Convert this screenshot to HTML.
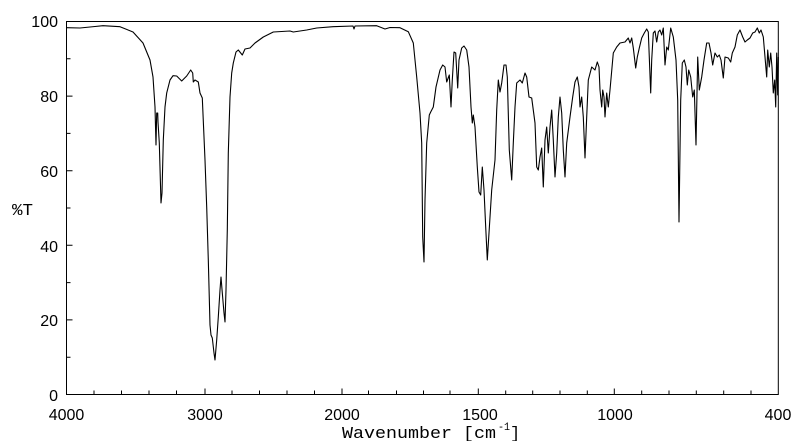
<!DOCTYPE html>
<html><head><style>body{margin:0;background:#fff}svg{display:block}</style></head><body>
<svg width="800" height="441" xmlns="http://www.w3.org/2000/svg">
<rect width="800" height="441" fill="#fff"/>
<rect x="66.5" y="21.5" width="711.8" height="373" fill="none" stroke="#000" stroke-width="1"/>
<g stroke="#000" stroke-width="1">
<path d="M66.5 394.5v-6M94 394.5v-4M121.5 394.5v-4M149 394.5v-4M176.5 394.5v-4M205 394.5v-6M232 394.5v-4M259.5 394.5v-4M287 394.5v-4M314.5 394.5v-4M342 394.5v-6M368.5 394.5v-4M396.5 394.5v-4M423.5 394.5v-4M450 394.5v-4M478.3 394.5v-6M505.7 394.5v-4M532.7 394.5v-4M560 394.5v-4M587.3 394.5v-4M614.3 394.5v-6M641.7 394.5v-4M669 394.5v-4M696.3 394.5v-4M723.7 394.5v-4M751 394.5v-4"/>
<path d="M66.5 21.5h6M66.5 58.8h4M66.5 96.1h6M66.5 133.4h4M66.5 170.7h6M66.5 208h4M66.5 245.3h6M66.5 282.6h4M66.5 319.9h6M66.5 357.2h4"/>
</g>
<g font-family="Liberation Sans, sans-serif" font-size="16" fill="#000">
<text x="58" y="27" text-anchor="end">100</text>
<text x="58" y="102" text-anchor="end">80</text>
<text x="58" y="177" text-anchor="end">60</text>
<text x="58" y="252" text-anchor="end">40</text>
<text x="58" y="326" text-anchor="end">20</text>
<text x="58" y="401" text-anchor="end">0</text>
<text x="66.5" y="420" text-anchor="middle">4000</text>
<text x="205" y="420" text-anchor="middle">3000</text>
<text x="342" y="420" text-anchor="middle">2000</text>
<text x="480" y="420" text-anchor="middle">1500</text>
<text x="615" y="420" text-anchor="middle">1000</text>
<text x="778" y="420" text-anchor="middle">400</text>
</g>
<g font-family="'Liberation Mono', monospace" font-size="17" fill="#000">
<text x="12" y="215" textLength="21" lengthAdjust="spacingAndGlyphs">%T</text>
<text x="342" y="438" textLength="154" lengthAdjust="spacingAndGlyphs">Wavenumber [cm</text>
<text x="498" y="430" font-size="11" textLength="12" lengthAdjust="spacingAndGlyphs">-1</text>
<text x="510" y="438">]</text>
</g>
<polyline fill="none" stroke="#000" stroke-width="1.1" stroke-linejoin="round" points="
66.7,27.7 80,28 95,26.5 103,25.7 120,26.7 133,32 143,43 150,60 153,77 155,107 156,145 156.7,113 157.7,113 158,122 159.3,143 161,203 162,193 163.3,140 165,107 166.7,93 170,80 173,75.7 176.7,76 181.7,81 186.7,76 190.7,70 192.7,73 193.3,82 195,80 198.3,82 200,93 202.3,98 205,160 206.7,207 208.3,260 210,325 211,335 212.3,338 214,353 215,360 216.7,340 218.3,317 220,290 221,277 222.3,293 224,313 225,322 226,290 227.3,230 228.3,153 230,97 231.7,73 233.3,63 236,52 238.3,50 240.7,53 242.3,55 245,49 250,48 255,43 263.3,37 273.3,32 290,31 293.3,32 306.7,30 316.7,28 333,26.7 353,26 354,29 355,26 376.7,25.7 385,29 390,27.5 400,27.7
408.3,31.7 413.3,43 416.7,77 420,113 421.7,143 422.7,237 424,262 425,200 426.7,143 429.3,115 430.7,112 433.3,107 436,87 440,70 442.7,65 445,67 446.7,82 449.3,75 451,107 452.3,80 454,52 455.7,53 457.7,88 459,60 461.7,48 464,46 466.7,50 469,67 471,107 472.3,123 473.3,115 475,127 477.3,167 479,192 480.7,195 482.3,167 484,190 485.7,227 487.3,260 489,233 491.7,190 495,160 496.7,110 498.3,80 500,92 501.7,83 504,65 506,65 507.3,77 509.3,150 511.7,180 513.3,143 515,107 516.7,83 520,80 522.3,83 525,73 526.7,77 529,97 531.7,98 535,123 536.7,167 538.3,170 540,157 541.7,148 543.3,187 545,140 546.7,127 548.3,153 550,127 551.7,110 553.3,140 555,177 556.7,153 558.3,117 560,97 561.7,113 563.3,150 565,177 566.7,143 570,117 572.7,97 575,82 577.3,77 579,87 580,107 581.7,97 583.3,117 585,158 586.7,117 588.3,80 591.7,67 595,70 597.3,62 599,67 600,90 601.7,107 602.7,90 604,97 605,117 606.7,93 608.3,107 610,90 613.3,53 616.7,47 620,43 625,42 628.3,38 630,43 631.7,38 633.3,48 635.7,68 637.3,57 639.3,48 641.7,38 644.3,33 646.7,29 648.3,32 650.7,93 651.7,60 653.3,33 655,31 656.7,42 658.3,32 660,30 661.7,35 663.3,28 665,65 666.7,47 668.3,50 670.7,28 673.3,37 676,60 677.7,100 679,222 680.7,100 682.3,63 684.3,60 686,67 687.3,85 688.7,70 690.7,77 692.7,97 694.3,90 696,145 697.7,57 699.3,90 701.7,77 704,60 706.7,43 709,43 711,53 712.7,65 715,53 717.3,57 719.3,55 721,60 723.3,78 725,57 728.3,58 730.7,62 732.3,53 735,47 737.3,35 740,30 742.7,37 745,42 747.3,40 750,38 752.7,33 755,32 757.3,28 759.3,33 761,30 763.3,37 765,57 766.7,77 767.7,50 769.3,67 770.7,53 772,67 773.3,93 774.7,80 775.7,107 776.7,53 777.7,95 778.3,57"/>
</svg>
</body></html>
